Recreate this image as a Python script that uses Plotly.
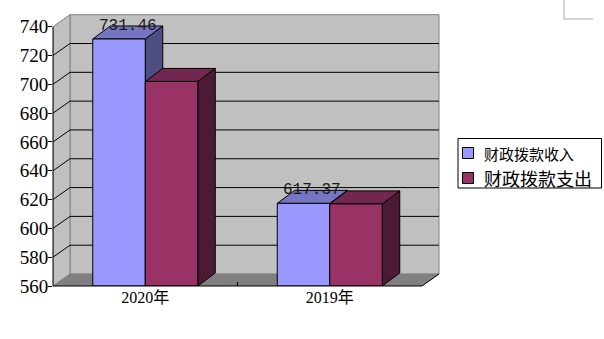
import plotly.graph_objects as go

# ---------------- data ----------------
categories = ["2020年", "2019年"]
series_names = ["财政拨款收入", "财政拨款支出"]
income = [731.46, 617.37]
expense = [702.0, 617.0]
income_labels = ["731.46", "617.37"]
y_ticks = [560, 580, 600, 620, 640, 660, 680, 700, 720, 740]

# ---------------- styling / geometry (pixels) ----------------
W, H = 604, 339
ML, MB, MT, MR = 53, 53, 13, 163
FRONT_W = 369.0           # front plane width in px
FRONT_H = 259.3           # front plane height in px (560 -> 740)
WALL_DX, WALL_DY = 17.0, 12.0
BAR_DX, BAR_DY = 17.5, 13.0
BAR_W = 52.5

front_colors = ["#9999FF", "#993366"]
top_colors = ["#7575C2", "#73264F"]
side_colors = ["#4E4E82", "#4D1A35"]

YLO, YHI = y_ticks[0], y_ticks[-1]
PXU = FRONT_W / len(categories)
PYU = FRONT_H / (YHI - YLO)
plot_w = W - ML - MR
plot_h = H - MB - MT
x0r = -0.5
xr = [x0r, x0r + plot_w / PXU]
yr = [YLO, YLO + plot_h / PYU]
xfront_end = x0r + len(categories)

dxw, dyw = WALL_DX / PXU, WALL_DY / PYU
dxb, dyb = BAR_DX / PXU, BAR_DY / PYU
bw = BAR_W / PXU

fig = go.Figure()


def poly(xs, ys, fill, line_color="black", line_width=1):
    fig.add_trace(go.Scatter(
        x=list(xs) + [xs[0]], y=list(ys) + [ys[0]], mode="lines",
        fill="toself", fillcolor=fill,
        line=dict(color=line_color, width=line_width),
        hoverinfo="skip", showlegend=False))


def seg(xs, ys, color="black", width=1):
    fig.add_trace(go.Scatter(
        x=xs, y=ys, mode="lines", line=dict(color=color, width=width),
        hoverinfo="skip", showlegend=False))


# back wall
bx0, bx1 = x0r + dxw, xfront_end + dxw
poly([bx0, bx1, bx1, bx0], [YLO + dyw, YLO + dyw, YHI + dyw, YHI + dyw], "#C0C0C0", "#808080")
# left wall
poly([x0r, x0r, bx0, bx0], [YLO, YHI, YHI + dyw, YLO + dyw], "#C0C0C0", "#808080")
# gridlines (back wall + left wall diagonals)
for v in y_ticks[1:-1]:
    seg([bx0, bx1], [v + dyw, v + dyw])
    seg([x0r, bx0], [v, v + dyw])
# floor
poly([x0r, xfront_end, bx1, bx0], [YLO, YLO, YLO + dyw, YLO + dyw], "#808080", "#808080", 0.5)
seg([xfront_end, bx1], [YLO, YLO + dyw])
# small category-boundary tick
for k in range(1, len(categories)):
    seg([x0r + k, x0r + k], [YLO, YLO + 4 / PYU])

# bars (front, top, side faces)
series = [income, expense]
for i in range(len(categories)):
    for s, vals in enumerate(series):
        v = vals[i]
        xa = i - bw + s * bw
        xb = xa + bw
        poly([xb, xb + dxb, xb + dxb, xb], [YLO, YLO + dyb, v + dyb, v], side_colors[s])
        poly([xa, xb, xb + dxb, xa + dxb], [v, v, v + dyb, v + dyb], top_colors[s])
        poly([xa, xb, xb, xa], [YLO, YLO, v, v], front_colors[s])

# data labels for income
for i, v in enumerate(income):
    fig.add_annotation(x=i - bw / 2 + dxb / 2, y=v + dyb, xref="x", yref="y",
                       text=income_labels[i], showarrow=False,
                       xanchor="center", yanchor="middle",
                       font=dict(family="Liberation Mono", size=16, color="#1a1a1a"))

# front axis lines
fig.add_shape(type="line", xref="paper", yref="y", x0=0, x1=0, y0=YLO, y1=YHI,
              line=dict(color="black", width=1))
fig.add_shape(type="line", xref="x", yref="paper", x0=x0r, x1=xfront_end, y0=0, y1=0,
              line=dict(color="black", width=1))

# ---------------- manual legend (pixel -> paper helpers) ----------------
def px(p):
    return (p - ML) / plot_w


def py(p):
    return (H - MB - p) / plot_h


fig.add_shape(type="rect", xref="paper", yref="paper",
              x0=px(458), x1=px(601.5), y0=py(138.5), y1=py(188),
              line=dict(color="black", width=1), fillcolor="white", layer="above")
legend_rows = [153, 178]
legend_sizes = [15, 18]
for k, name in enumerate(series_names):
    cy = legend_rows[k]
    fig.add_shape(type="rect", xref="paper", yref="paper",
                  x0=px(462.5), x1=px(473.5), y0=py(cy - 5.5), y1=py(cy + 5.5),
                  line=dict(color="black", width=1), fillcolor=front_colors[k], layer="above")
    fig.add_annotation(xref="paper", yref="paper", x=px(482), y=py(cy),
                       text=name, showarrow=False, xanchor="left", yanchor="middle",
                       font=dict(family="Noto Sans CJK SC", size=legend_sizes[k], color="black"))

# text-box corner artifact at top right
fig.add_shape(type="line", xref="paper", yref="paper", x0=px(564), x1=px(564), y0=py(0), y1=py(19),
              line=dict(color="#A8A8A8", width=1))
fig.add_shape(type="line", xref="paper", yref="paper", x0=px(564), x1=px(593), y0=py(19), y1=py(19),
              line=dict(color="#A8A8A8", width=1))

fig.update_layout(
    width=W, height=H,
    margin=dict(l=ML, r=MR, t=MT, b=MB, pad=0),
    paper_bgcolor="white", plot_bgcolor="white",
    showlegend=False,
    xaxis=dict(range=xr, tickvals=list(range(len(categories))), ticktext=categories,
               showgrid=False, zeroline=False, showline=False, ticks="",
               tickfont=dict(family="Liberation Serif, Noto Sans CJK SC", size=16, color="black"),
               fixedrange=True),
    yaxis=dict(range=yr, tickvals=y_ticks, showgrid=False, zeroline=False, showline=False,
               ticks="outside", ticklen=4, tickcolor="black", tickwidth=1,
               ticklabelstandoff=-4,
               tickfont=dict(family="Liberation Serif", size=19, color="black"),
               fixedrange=True),
)

fig.write_html("out.html")
